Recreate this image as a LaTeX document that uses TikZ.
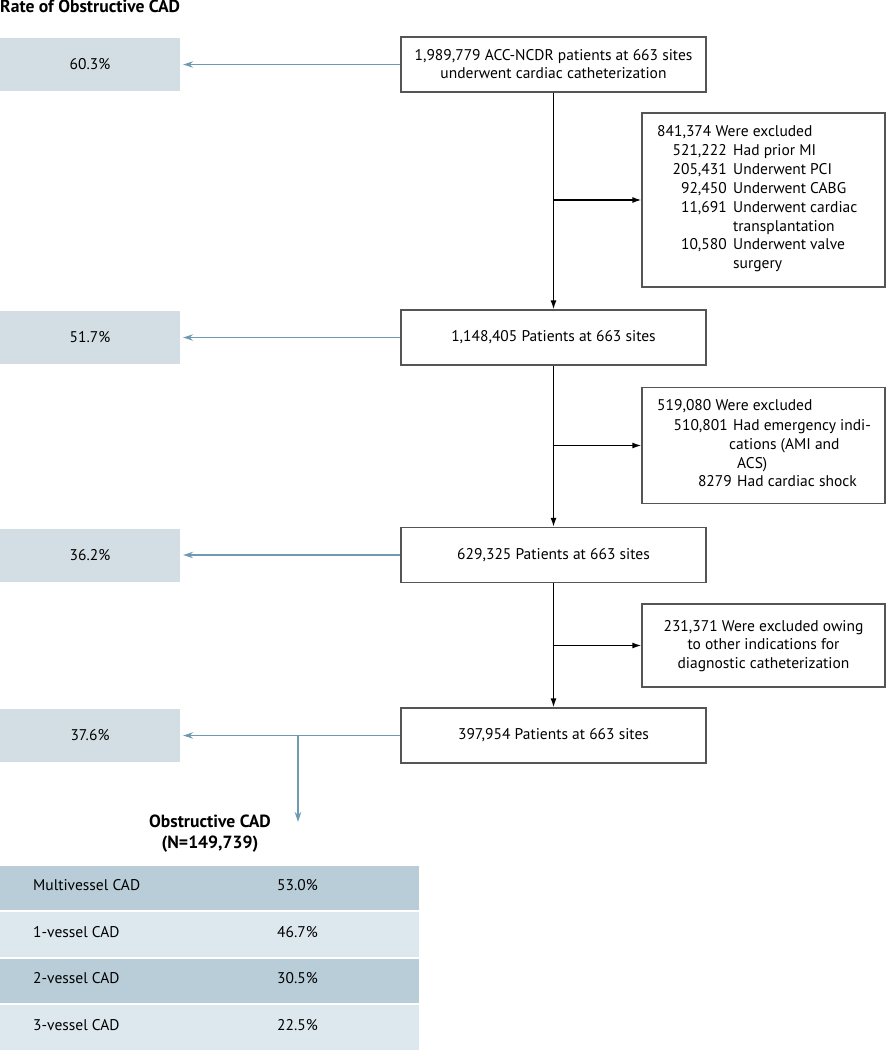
\documentclass[tikz,border=0pt]{standalone}
\usepackage{fontspec}
\setmainfont{PT Sans}
\usetikzlibrary{arrows.meta}
\definecolor{greybox}{HTML}{D3DEE4}
\definecolor{darkrow}{HTML}{B9CDD8}
\definecolor{lightrow}{HTML}{DDE7EE}
\definecolor{bluearr}{HTML}{6F9BB2}
\definecolor{boxline}{HTML}{555555}
\begin{document}
\begin{tikzpicture}[x=1pt,y=-1pt,
  font=\fontsize{15.5}{18}\selectfont,
  mainbox/.style={draw=boxline, line width=1.3pt, fill=white, minimum width=305pt, minimum height=55pt, align=center, inner sep=0pt},
  exbox/.style={draw=boxline, line width=1.3pt, fill=white, minimum width=243pt, inner sep=0pt},
  gbox/.style={fill=greybox, minimum width=180pt, minimum height=53pt, inner sep=0pt},
  rowd/.style={fill=darkrow, minimum width=419pt, minimum height=44.5pt, inner sep=0pt},
  rowl/.style={fill=lightrow, minimum width=419pt, minimum height=44.5pt, inner sep=0pt},
  txt/.style={inner sep=0pt, anchor=mid west},
  num/.style={inner sep=0pt, anchor=mid east},
  karr/.style={line width=1.4pt, -{Latex[length=9pt,width=6pt]}},
  barr/.style={draw=bluearr, line width=1.2pt, -{Stealth[length=10pt,width=6.5pt]}},
]
\useasboundingbox (0,0) rectangle (886,1050);

% title
\node[inner sep=0pt, anchor=mid west, font=\fontsize{17.6}{20}\selectfont\bfseries] (title) at (0,10) {Rate of Obstructive CAD};

% main boxes
\node[mainbox] (b1) at (553.5,64.5) {1,989,779 ACC-NCDR patients at 663 sites\\[0pt]underwent cardiac catheterization};
\node[mainbox] (b2) at (553.5,337.5) {1,148,405 Patients at 663 sites};
\node[mainbox] (b3) at (553.5,555) {629,325 Patients at 663 sites};
\node[mainbox] (b4) at (553.5,735.5) {397,954 Patients at 663 sites};

% grey rate boxes
\node[gbox] (g1) at (90,64.5) {60.3\%};
\node[gbox] (g2) at (90,337.5) {51.7\%};
\node[gbox] (g3) at (90,555) {36.2\%};
\node[gbox] (g4) at (90,735.5) {37.6\%};

% exclusion boxes
\node[exbox, minimum height=174pt] (e1) at (763.5,200) {};
\node[exbox, minimum height=116pt] (e2) at (763.5,445.5) {};
\node[exbox, minimum height=83pt] (e3) at (763.5,645.5) {};

% exclusion 1 text
\node[txt] (e1a) at (657,134) {841,374 Were excluded};
\node[num] (e1b) at (727,153) {521,222};
\node[txt] (e1bt) at (733,153) {Had prior MI};
\node[num] (e1c) at (727,172) {205,431};
\node[txt] (e1ct) at (733,172) {Underwent PCI};
\node[num] (e1d) at (727,191) {92,450};
\node[txt] (e1dt) at (733,191) {Underwent CABG};
\node[num] (e1e) at (727,209.5) {11,691};
\node[txt] (e1et) at (733,209.5) {Underwent cardiac};
\node[txt] (e1et2) at (733,228.5) {transplantation};
\node[num] (e1f) at (727,247) {10,580};
\node[txt] (e1ft) at (733,247) {Underwent valve};
\node[txt] (e1ft2) at (733,266) {surgery};

% exclusion 2 text
\node[txt] (e2a) at (657,408) {519,080 Were excluded};
\node[num] (e2b) at (728,428) {510,801};
\node[txt] (e2bt) at (733,428) {Had emergency indi-};
\node[txt] (e2bt2) at (729,447) {cations (AMI and};
\node[txt] (e2bt3) at (737,465.5) {ACS)};
\node[num] (e2c) at (732,484) {8279};
\node[txt] (e2ct) at (737,484) {Had cardiac shock};

% exclusion 3 text
\node[inner sep=0pt, align=center, font=\fontsize{15.5}{18.5}\selectfont] (e3t) at (763.5,646) {231,371 Were excluded owing\\to other indications for\\diagnostic catheterization};

% black flow arrows
\draw[karr] (b1) -- (b2);
\draw[karr] (b2) -- (b3);
\draw[karr] (b3) -- (b4);
\draw[karr] (b1.south |- e1.west) -- (e1.west);
\draw[karr] (b2.south |- e2.west) -- (e2.west);
\draw[karr] (b3.south |- e3.west) -- (e3.west);

% blue rate arrows
\draw[barr, shorten >=3pt] (b1) -- (g1);
\draw[barr, shorten >=3pt] (b2) -- (g2);
\draw[barr, shorten >=3pt] (b3) -- (g3);
\draw[barr, shorten >=3pt] (b4) -- (g4);
\coordinate (br) at (298,735.5);
\coordinate (brend) at (298,822);
\draw[barr] (br) -- (brend);

% obstructive CAD table
\node[inner sep=0pt, align=center, font=\fontsize{17.6}{21}\selectfont\bfseries] (oc) at (210,834) {Obstructive CAD\\(N=149,739)};
\node[rowd] (r1) at (209.5,888) {};
\node[rowl] (r2) at (209.5,934.5) {};
\node[rowd] (r3) at (209.5,981) {};
\node[rowl] (r4) at (209.5,1027.5) {};
\node[txt] (r1a) at (33,888) {Multivessel CAD};
\node[txt] (r1b) at (277,888) {53.0\%};
\node[txt] (r2a) at (33,934.5) {1-vessel CAD};
\node[txt] (r2b) at (277,934.5) {46.7\%};
\node[txt] (r3a) at (33,981) {2-vessel CAD};
\node[txt] (r3b) at (277,981) {30.5\%};
\node[txt] (r4a) at (33,1027.5) {3-vessel CAD};
\node[txt] (r4b) at (277,1027.5) {22.5\%};
\end{tikzpicture}
\end{document}
